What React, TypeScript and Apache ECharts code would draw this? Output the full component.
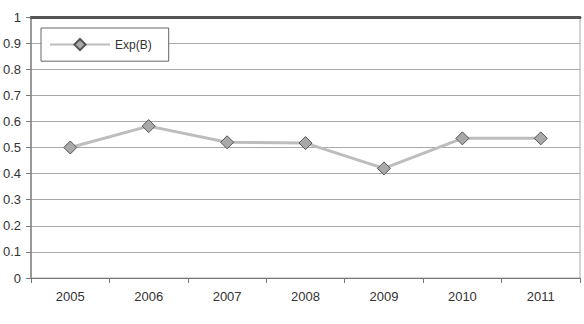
import React, { useEffect, useRef } from "react";
import * as echarts from "echarts";

const years = ["2005", "2006", "2007", "2008", "2009", "2010", "2011"];
const expB = [0.5, 0.582, 0.52, 0.517, 0.42, 0.535, 0.535];
const yTicks = [0, 0.1, 0.2, 0.3, 0.4, 0.5, 0.6, 0.7, 0.8, 0.9, 1];

export default function App() {
  const ref = useRef<HTMLDivElement>(null);

  useEffect(() => {
    if (!ref.current) return;
    const chart = echarts.init(ref.current, undefined, { renderer: "svg" });
    const font = "'Liberation Sans', Arial, sans-serif";
    chart.setOption({
      animation: false,
      backgroundColor: "#ffffff",
      grid: {
        left: 29,
        right: 4,
        top: 17,
        bottom: 46,
        show: true,
        borderColor: "#a8a8a8",
        borderWidth: 1,
      },
      legend: {
        left: 41,
        top: 28,
        padding: [10, 17, 10, 8],
        itemWidth: 60,
        itemHeight: 14,
        itemGap: 5,
        borderColor: "#666",
        borderWidth: 1,
        backgroundColor: "#ffffff",
        textStyle: { fontFamily: font, fontSize: 12, color: "#333" },
        data: ["Exp(B)"],
      },
      xAxis: [
        {
          type: "category",
          data: years,
          boundaryGap: true,
          axisLine: { lineStyle: { color: "#777", width: 1 } },
          axisTick: { show: true, length: 5, lineStyle: { color: "#777" } },
          axisLabel: { fontFamily: font, fontSize: 13, color: "#333", margin: 12 },
          splitLine: { show: false },
        },
        {
          type: "category",
          data: years,
          position: "top",
          axisLine: { show: true, lineStyle: { color: "#555", width: 3 } },
          axisTick: { show: false },
          axisLabel: { show: false },
          splitLine: { show: false },
        },
      ],
      yAxis: {
        type: "value",
        min: yTicks[0],
        max: yTicks[yTicks.length - 1],
        interval: 0.1,
        axisLine: { show: true, lineStyle: { color: "#999", width: 2 } },
        axisTick: { show: true, length: 5, lineStyle: { color: "#777" } },
        axisLabel: {
          fontFamily: font,
          fontSize: 13,
          color: "#333",
          margin: 10,
          formatter: (v: number) => String(Math.round(v * 10) / 10),
        },
        splitLine: { show: true, lineStyle: { color: "#aaaaaa", width: 1 } },
      },
      series: [
        {
          name: "Exp(B)",
          type: "line",
          data: expB,
          symbol: "diamond",
          symbolSize: 13,
          lineStyle: { color: "#bdbdbd", width: 3 },
          itemStyle: { color: "#a9a9a9", borderColor: "#555", borderWidth: 1 },
        },
      ],
    });
    return () => chart.dispose();
  }, []);

  return (
    <div
      ref={ref}
      style={{ position: "fixed", left: 0, top: 0, width: 584, height: 324 }}
    />
  );
}
